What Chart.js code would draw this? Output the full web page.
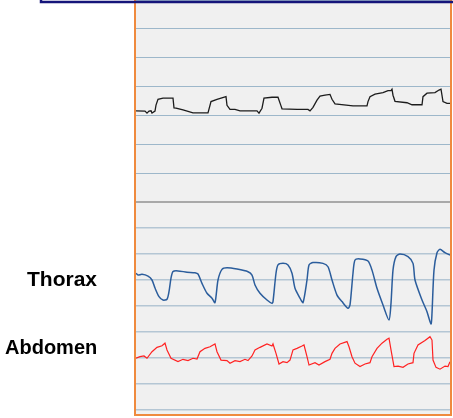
<!DOCTYPE html>
<html>
<head>
<meta charset="utf-8">
<script src="https://cdn.jsdelivr.net/npm/chart.js@4/dist/chart.umd.min.js"></script>
<style>
  html, body { margin: 0; padding: 0; background: #ffffff; }
  #wrap { position: relative; width: 453px; height: 418px; }
</style>
</head>
<body>
<div id="wrap"><canvas id="c" width="453" height="418"></canvas></div>
<script>
// Time base (seconds) and traces for each channel
const flowTime = [0.0, 0.9, 1.1, 1.3, 1.5, 1.6, 1.9, 2.0, 2.2, 2.7, 3.7, 3.8, 4.0, 4.7, 5.7, 7.2, 7.5, 8.1, 9.0, 9.1, 9.4, 9.9, 10.4, 12.1, 12.3, 12.6, 12.8, 13.6, 14.2, 14.5, 14.6, 16.1, 17.2, 17.4, 17.7, 18.1, 18.4, 18.9, 19.4, 19.6, 19.9, 21.7, 23.1, 23.2, 23.4, 23.9, 24.7, 25.2, 25.5, 25.6, 25.7, 25.9, 27.1, 27.6, 28.6, 28.7, 29.1, 29.9, 30.3, 30.5, 30.7, 31.1, 31.4];
const flowValues = [3.16, 3.15, 3.08, 3.15, 3.16, 3.08, 3.15, 3.36, 3.56, 3.60, 3.60, 3.26, 3.25, 3.19, 3.09, 3.09, 3.48, 3.56, 3.65, 3.35, 3.21, 3.21, 3.16, 3.16, 3.08, 3.25, 3.60, 3.63, 3.63, 3.33, 3.23, 3.21, 3.21, 3.16, 3.28, 3.53, 3.67, 3.70, 3.73, 3.56, 3.40, 3.33, 3.33, 3.48, 3.65, 3.74, 3.79, 3.86, 3.86, 3.91, 3.70, 3.49, 3.44, 3.37, 3.37, 3.65, 3.77, 3.79, 3.88, 3.91, 3.48, 3.42, 3.42];

const thoraxTime = [0.0, 0.2, 0.6, 1.2, 1.6, 1.9, 2.3, 2.7, 3.1, 3.3, 3.5, 3.7, 4.2, 5.1, 5.9, 6.2, 6.6, 7.1, 7.6, 7.9, 8.2, 8.6, 9.1, 10.1, 11.2, 11.6, 11.9, 12.4, 13.1, 13.6, 13.7, 14.0, 14.2, 14.7, 15.2, 15.6, 15.9, 16.4, 16.7, 17.1, 17.3, 17.7, 18.7, 19.2, 19.6, 20.1, 20.6, 21.2, 21.4, 21.7, 21.9, 22.4, 23.2, 23.6, 24.1, 24.7, 25.3, 25.5, 25.7, 26.0, 26.4, 27.2, 27.7, 27.9, 28.6, 29.1, 29.5, 29.6, 29.8, 30.1, 30.4, 30.9, 31.4];
const thoraxValues = [5.26, 5.19, 5.22, 5.15, 5.00, 4.69, 4.36, 4.23, 4.26, 4.55, 5.07, 5.33, 5.35, 5.30, 5.28, 5.23, 4.87, 4.49, 4.30, 4.13, 5.00, 5.41, 5.47, 5.42, 5.32, 5.19, 4.81, 4.49, 4.23, 4.10, 4.17, 5.26, 5.58, 5.64, 5.58, 5.26, 4.68, 4.30, 4.13, 5.00, 5.58, 5.67, 5.64, 5.51, 5.00, 4.42, 4.17, 3.91, 4.04, 5.26, 5.77, 5.81, 5.73, 5.38, 4.68, 4.04, 3.46, 4.10, 5.38, 5.90, 6.00, 5.90, 5.64, 5.00, 4.23, 3.78, 3.31, 3.72, 5.38, 6.05, 6.18, 6.05, 5.96];

const abdomenTime = [0.0, 0.4, 0.8, 1.1, 1.6, 2.1, 2.6, 2.9, 3.1, 3.5, 4.2, 4.7, 5.2, 5.7, 6.1, 6.4, 6.9, 7.4, 7.9, 8.1, 8.5, 9.1, 9.4, 9.9, 10.4, 10.9, 11.2, 11.6, 11.9, 12.4, 13.1, 13.6, 13.7, 14.0, 14.3, 14.7, 15.1, 15.4, 15.6, 15.7, 16.1, 16.6, 16.8, 17.1, 17.3, 17.9, 18.3, 18.9, 19.4, 19.6, 19.9, 20.4, 21.1, 21.3, 21.6, 21.9, 22.4, 22.9, 23.4, 23.6, 24.1, 24.6, 25.1, 25.3, 25.5, 25.8, 26.2, 26.7, 27.2, 27.7, 27.8, 28.2, 28.9, 29.4, 29.6, 29.7, 30.0, 30.4, 30.9, 31.2, 31.4];
const abdomenValues = [1.99, 2.05, 2.08, 1.99, 2.24, 2.41, 2.47, 2.57, 2.31, 1.99, 1.86, 1.95, 1.90, 1.99, 1.96, 2.24, 2.37, 2.43, 2.54, 2.24, 1.92, 1.90, 1.80, 1.90, 1.86, 1.95, 1.90, 2.08, 2.31, 2.41, 2.54, 2.46, 2.54, 2.18, 1.77, 1.86, 1.82, 1.92, 2.18, 2.31, 2.37, 2.46, 2.50, 2.05, 1.73, 1.82, 1.73, 1.86, 1.95, 2.18, 2.37, 2.54, 2.63, 2.43, 2.05, 1.80, 1.67, 1.77, 1.82, 2.05, 2.37, 2.57, 2.72, 2.76, 2.31, 1.67, 1.69, 1.64, 1.77, 1.82, 2.18, 2.50, 2.67, 2.82, 2.69, 1.92, 1.64, 1.57, 1.69, 1.67, 1.86];

// Channel labels beside the effort lanes
const channelLabels = ['Thorax', 'Abdomen'];

const toPoints = (ts, vs) => ts.map((t, i) => ({ x: t, y: vs[i] }));
const integerTicks = (lo, hi) => {
  const out = [];
  for (let v = lo; v <= hi; v++) out.push({ value: v });
  return out;
};

// Panel fill, orange frame, header box edge and channel labels
const decorations = {
  id: 'decorations',
  beforeDraw(chart) {
    const { ctx, chartArea: a } = chart;
    ctx.save();
    ctx.fillStyle = '#f0f0f0';
    ctx.fillRect(a.left, a.top, a.right - a.left, a.bottom - a.top);
    ctx.restore();
  },
  afterDraw(chart) {
    const { ctx, chartArea: a } = chart;
    ctx.save();
    ctx.strokeStyle = '#ef8a3e';
    ctx.lineWidth = 2;
    ctx.strokeRect(a.left - 1, a.top - 1, a.right - a.left + 2, a.bottom - a.top + 2);

    ctx.strokeStyle = '#15157a';
    ctx.lineWidth = 2.5;
    ctx.strokeRect(41, -30, 430, 32);

    ctx.fillStyle = '#000000';
    ctx.textAlign = 'left';
    ctx.textBaseline = 'alphabetic';
    ctx.font = 'bold 21px "Liberation Sans", Arial, sans-serif';
    ctx.fillText(channelLabels[0], 27, 285.5);
    ctx.font = 'bold 20px "Liberation Sans", Arial, sans-serif';
    ctx.fillText(channelLabels[1], 5, 353.5);
    ctx.restore();
  }
};

new Chart(document.getElementById('c'), {
  type: 'line',
  data: {
    datasets: [
      {
        label: 'Flow',
        data: toPoints(flowTime, flowValues),
        yAxisID: 'yFlow',
        borderColor: '#1c1c1c',
        borderWidth: 1.3,
        pointRadius: 0,
        tension: 0
      },
      {
        label: channelLabels[0],
        data: toPoints(thoraxTime, thoraxValues),
        yAxisID: 'yEffort',
        borderColor: '#2b5d9c',
        borderWidth: 1.5,
        pointRadius: 0,
        tension: 0.25
      },
      {
        label: channelLabels[1],
        data: toPoints(abdomenTime, abdomenValues),
        yAxisID: 'yEffort',
        borderColor: '#ff2222',
        borderWidth: 1.2,
        pointRadius: 0,
        tension: 0
      }
    ]
  },
  options: {
    responsive: false,
    animation: false,
    events: [],
    layout: { padding: { left: 136, right: 3, top: 0, bottom: 4 } },
    plugins: { legend: { display: false }, tooltip: { enabled: false }, title: { display: false } },
    scales: {
      x: {
        type: 'linear',
        min: 0,
        max: 31.4,
        display: false
      },
      yFlow: {
        type: 'linear',
        position: 'left',
        stack: 'lanes',
        stackWeight: 202,
        weight: 2,
        min: 0,
        max: 7,
        afterBuildTicks: (s) => { s.ticks = integerTicks(0, 7); },
        ticks: { display: false },
        border: { display: false },
        grid: {
          drawTicks: false,
          color: (c) => (c.tick && c.tick.value === 0 ? '#a9a9a9' : '#9db7ca'),
          lineWidth: (c) => (c.tick && c.tick.value === 0 ? 2 : 1)
        }
      },
      yEffort: {
        type: 'linear',
        position: 'left',
        stack: 'lanes',
        stackWeight: 212,
        weight: 1,
        min: -0.154,
        max: 8,
        afterBuildTicks: (s) => { s.ticks = integerTicks(0, 8); },
        ticks: { display: false },
        border: { display: false },
        grid: {
          drawTicks: false,
          color: (c) => (c.tick && c.tick.value === 8 ? '#a9a9a9' : '#b4c6d4'),
          lineWidth: (c) => (c.tick && c.tick.value === 8 ? 2 : 1.5)
        }
      }
    }
  },
  plugins: [decorations]
});
</script>
</body>
</html>
